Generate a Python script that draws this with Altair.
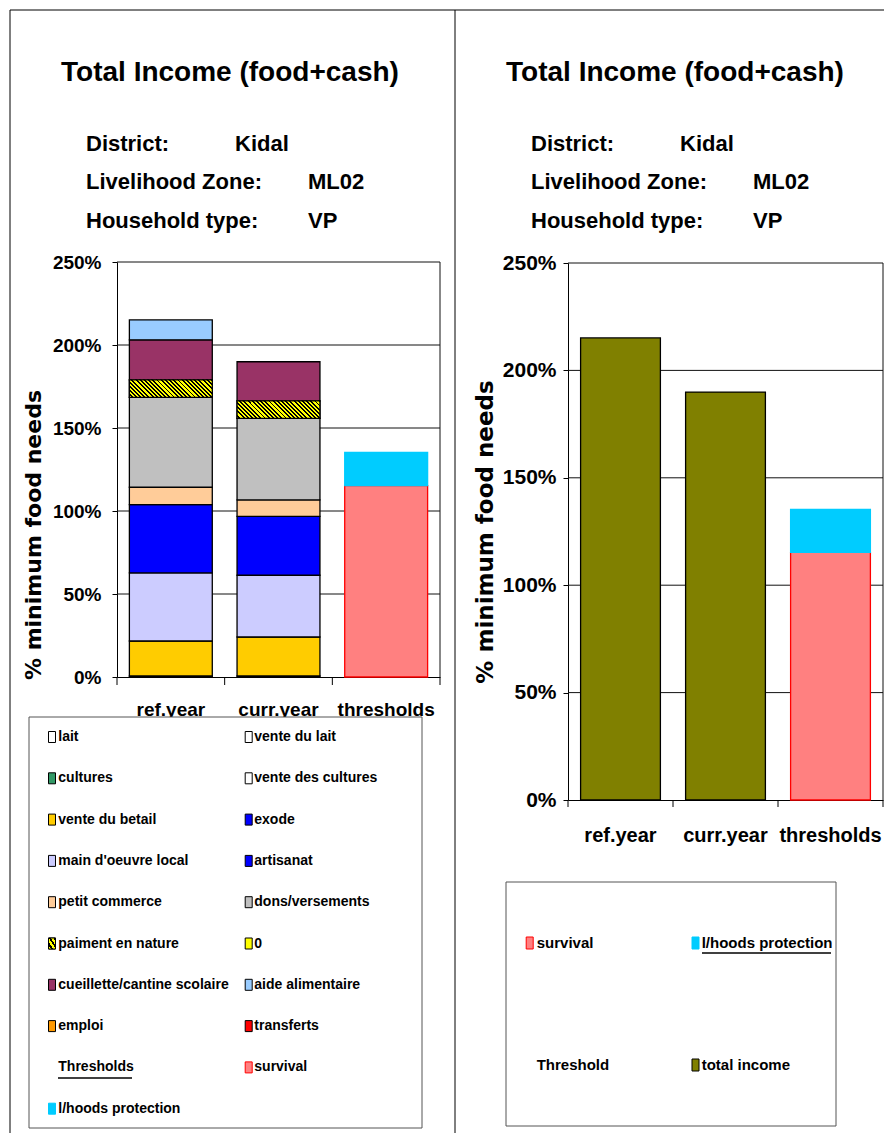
import altair as alt
import pandas as pd

# ---------------- data ----------------
PERIODS = ["ref.year", "curr.year", "thresholds"]

SERIES = ["lait", "vente du lait", "cultures", "vente des cultures", "vente du betail",
          "exode", "main d'oeuvre local", "artisanat", "petit commerce", "dons/versements",
          "paiment en nature", "0", "cueillette/cantine scolaire", "aide alimentaire",
          "emploi", "transferts"]
SERIES_COLORS = ["#FFFFFF", "#FFFFFF", "#339966", "#FFFFFF", "#FFCC00",
                 "#0000FF", "#CCCCFF", "#0000FF", "#FFCC99", "#C0C0C0",
                 "#FFFF00", "#FFFF00", "#993366", "#99CCFF",
                 "#FF9900", "#FF0000"]
REF_YEAR = [0.6, 0, 0, 0, 21.1, 0, 41.0, 41.2, 10.4, 54.1, 10.6, 0, 24.1, 12.0, 0, 0]
CURR_YEAR = [0.6, 0, 0, 0, 23.5, 0, 37.2, 35.5, 9.9, 49.1, 10.6, 0, 23.5, 0, 0, 0]

THRESH_SERIES = ["survival", "l/hoods protection"]
THRESH_VALUES = [115.3, 20.0]
THRESH_FILLS = ["#FF8080", "#00CCFF"]
THRESH_STROKES = ["#FF0000", "#00CCFF"]

TOTAL_LABEL = "total income"
TOTAL_COLOR = "#808000"

Y_TICKS = [0, 50, 100, 150, 200, 250]

TITLE = "Total Income (food+cash)"
INFO_LABELS = ["District:", "Livelihood Zone:", "Household type:"]
INFO_VALUES = ["Kidal", "ML02", "VP"]
Y_TITLE = "% minimum food needs"

LEFT_LEGEND = SERIES + ["Thresholds"] + THRESH_SERIES
RIGHT_LEGEND = THRESH_SERIES + ["Threshold", TOTAL_LABEL]

# ---------------- style ----------------
NARROW = "Liberation Sans, Arial, sans-serif"
WIDE = "DejaVu Sans"
W, H = 876, 1125

L_X = [109, 432]
L_Y = [669, 254]
R_X = [560, 875]
R_Y = [792, 255]
PANEL_DX = 445
BAR_SW = 1.3

one = pd.DataFrame({"k": [0]})

# hatch fill for "paiment en nature"
N_STRIPES = 24
stops = []
for k in range(N_STRIPES):
    a = k / N_STRIPES
    b = (k + 0.55) / N_STRIPES
    c = (k + 1) / N_STRIPES
    stops += [alt.GradientStop(offset=a, color="#FFFF00"),
              alt.GradientStop(offset=b, color="#FFFF00"),
              alt.GradientStop(offset=b, color="#000000"),
              alt.GradientStop(offset=c, color="#000000")]
HATCH = alt.LinearGradient(gradient="linear", stops=stops, x1=0, y1=1, x2=1.16, y2=0.754)
sw_stops = []
for k in range(3):
    a = k / 3
    b = (k + 0.55) / 3
    c = (k + 1) / 3
    sw_stops += [alt.GradientStop(offset=a, color="#FFFF00"),
                 alt.GradientStop(offset=b, color="#FFFF00"),
                 alt.GradientStop(offset=b, color="#000000"),
                 alt.GradientStop(offset=c, color="#000000")]
HATCH_SW = alt.LinearGradient(gradient="linear", stops=sw_stops, x1=0, y1=1, x2=1, y2=0)

# ---------------- tables ----------------
inc_rows = []
for period, vals in [(PERIODS[0], REF_YEAR), (PERIODS[1], CURR_YEAR)]:
    for i, (s, v) in enumerate(zip(SERIES, vals)):
        if v > 0:
            inc_rows.append({"period": period, "series": s, "value": v,
                             "order": i, "fill": SERIES_COLORS[i]})
income_df = pd.DataFrame(inc_rows)

thr_df = pd.DataFrame({"period": PERIODS[2], "series": THRESH_SERIES,
                       "value": THRESH_VALUES, "order": [0, 1],
                       "fill": THRESH_FILLS, "stroke": THRESH_STROKES})

total_df = pd.DataFrame({"period": PERIODS[:2],
                         "value": [round(sum(REF_YEAR), 1), round(sum(CURR_YEAR), 1)]})

grid_df = pd.DataFrame({"tick": Y_TICKS[1:]})


def xscale(rng, pi):
    return alt.Scale(domain=PERIODS, range=rng, paddingInner=pi, paddingOuter=pi / 2)


def yscale(rng):
    return alt.Scale(domain=[0, 250], range=rng, nice=False, zero=False)


def yaxis(xpos, fs, pad):
    return alt.Axis(orient="left", offset=-xpos, values=Y_TICKS, labelExpr="datum.value + '%'",
                    grid=False, domainColor="black", tickColor="black", tickSize=5,
                    labelFont=NARROW, labelFontSize=fs, labelFontWeight="bold",
                    labelColor="black", labelPadding=pad, title=None)


def xaxis(ypos, fs, pad):
    return alt.Axis(orient="bottom", offset=ypos - H, ticks=False,
                    grid=False, domainColor="black", labelAngle=0,
                    labelFont=NARROW, labelFontSize=fs, labelFontWeight="bold",
                    labelColor="black", labelPadding=pad, title=None)


def stack(ch):
    return ch.transform_stack(stack="value", groupby=["period"], as_=["v0", "v1"],
                              sort=[alt.SortField(field="order", order="ascending")])


def panel_common(xr, yr, pi, ax_y, ax_x, tick_len):
    xs, ys = xscale(xr, pi), yscale(yr)
    grid = alt.Chart(grid_df).mark_rule(color="#111111", strokeWidth=1).encode(
        y=alt.Y("tick:Q", scale=ys, axis=ax_y),
        x=alt.value(xr[0]), x2=alt.value(xr[1]))
    border = alt.Chart(one).mark_rule(color="#111111", strokeWidth=1).encode(
        x=alt.value(xr[1]), y=alt.value(yr[1]), y2=alt.value(yr[0]))
    step = (xr[1] - xr[0]) / len(PERIODS)
    tick_df = pd.DataFrame({"bx": [xr[0] + k * step for k in range(len(PERIODS) + 1)]})
    xticks = alt.Chart(tick_df).mark_rule(color="black", strokeWidth=1).encode(
        x=alt.X("bx:Q", scale=None), y=alt.value(yr[0]), y2=alt.value(yr[0] + tick_len))
    thr = stack(alt.Chart(thr_df)).mark_bar(strokeWidth=BAR_SW).encode(
        x=alt.X("period:N", scale=xs, axis=ax_x),
        y=alt.Y("v0:Q", scale=ys, axis=ax_y), y2="v1:Q",
        fill=alt.Fill("fill:N", scale=None), stroke=alt.Stroke("stroke:N", scale=None))
    return xs, ys, grid, border, xticks, thr


# left panel
lax_y = yaxis(L_X[0], 19, 11)
lax_x = xaxis(L_Y[0], 19, 23)
xs, ys, lgrid, lborder, lxt, lthr = panel_common(L_X, L_Y, 0.23, lax_y, lax_x, 8)
linc = stack(alt.Chart(income_df)).mark_bar(stroke="black", strokeWidth=BAR_SW).encode(
    x=alt.X("period:N", scale=xs, axis=lax_x),
    y=alt.Y("v0:Q", scale=ys, axis=lax_y), y2="v1:Q",
    fill=alt.Fill("fill:N", scale=None))
lhatch = stack(alt.Chart(income_df)).transform_filter(
    alt.datum.series == "paiment en nature").mark_bar(
    fill=HATCH, stroke="black", strokeWidth=BAR_SW).encode(
    x=alt.X("period:N", scale=xs, axis=lax_x),
    y=alt.Y("v0:Q", scale=ys, axis=lax_y), y2="v1:Q")
left_panel = alt.layer(lgrid, lborder, lxt, linc, lhatch, lthr)

# right panel
rax_y = yaxis(R_X[0], 21, 7)
rax_x = xaxis(R_Y[0], 20, 25)
xs2, ys2, rgrid, rborder, rxt, rthr = panel_common(R_X, R_Y, 0.24, rax_y, rax_x, 7)
rtot = alt.Chart(total_df).mark_bar(fill=TOTAL_COLOR, stroke="black", strokeWidth=BAR_SW).encode(
    x=alt.X("period:N", scale=xs2, axis=rax_x),
    y=alt.Y("value:Q", scale=ys2, axis=rax_y))
right_panel = alt.layer(rgrid, rborder, rxt, rtot, rthr)

# ---------------- decorations ----------------
frames = [
    alt.Chart(one).mark_rule(color="black", strokeWidth=1).encode(
        x=alt.value(2), x2=alt.value(W), y=alt.value(2)),
    alt.Chart(one).mark_rule(color="black", strokeWidth=1).encode(
        x=alt.value(2), y=alt.value(2), y2=alt.value(H)),
    alt.Chart(one).mark_rule(color="black", strokeWidth=1).encode(
        x=alt.value(447), y=alt.value(2), y2=alt.value(H)),
]

title_df = pd.DataFrame({"text": [TITLE, TITLE], "x": [222, 222 + PANEL_DX], "y": [73, 73]})
titles = alt.Chart(title_df).mark_text(font=NARROW, fontWeight="bold", fontSize=28,
                                       align="center", baseline="alphabetic", color="black").encode(
    x=alt.X("x:Q", scale=None), y=alt.Y("y:Q", scale=None), text="text:N")

info_rows = []
base_y = [142.5, 181, 219.5]
val_x = [227, 300, 300]
for dx in [0, PANEL_DX]:
    for i in range(3):
        info_rows.append({"text": INFO_LABELS[i], "x": 78 + dx, "y": base_y[i]})
        info_rows.append({"text": INFO_VALUES[i], "x": val_x[i] + dx, "y": base_y[i]})
info = alt.Chart(pd.DataFrame(info_rows)).mark_text(
    font=NARROW, fontWeight="bold", fontSize=22, align="left", baseline="alphabetic",
    color="black").encode(x=alt.X("x:Q", scale=None), y=alt.Y("y:Q", scale=None), text="text:N")

ytitles = [
    alt.Chart(one).mark_text(font=WIDE, fontWeight="bold", fontSize=22, angle=270,
                             align="center", baseline="alphabetic", color="black").encode(
        x=alt.value(33), y=alt.value(527), text=alt.value(Y_TITLE)),
    alt.Chart(one).mark_text(font=WIDE, fontWeight="bold", fontSize=23, angle=270,
                             align="center", baseline="alphabetic", color="black").encode(
        x=alt.value(485), y=alt.value(524), text=alt.value(Y_TITLE)),
]

# left legend
ll_fill = SERIES_COLORS + [None] + THRESH_FILLS
ll_stroke = ["#000000"] * len(SERIES) + [None] + THRESH_STROKES
ll_rows = []
for i, lab in enumerate(LEFT_LEGEND):
    r, c = i // 2, i % 2
    sx = [44, 240.7][c]
    cy = 729 + 41.3 * r
    ll_rows.append({"label": lab, "fill": ll_fill[i] or "", "stroke": ll_stroke[i] or "",
                    "tx": [50.3, 246.3][c], "cy": cy,
                    "x0": sx - 3.5, "x1": sx + 3.5, "y0": cy - 5.5, "y1": cy + 5.5})
ll_df = pd.DataFrame(ll_rows)

# right legend
rl_fill = THRESH_FILLS + [None, TOTAL_COLOR]
rl_stroke = THRESH_STROKES + [None, "#000000"]
rl_rows = []
for i, lab in enumerate(RIGHT_LEGEND):
    r, c = i // 2, i % 2
    sx = [521.7, 687.5][c]
    cy = [935, 1057][r]
    rl_rows.append({"label": lab, "fill": rl_fill[i] or "", "stroke": rl_stroke[i] or "",
                    "tx": [528.7, 693.7][c], "cy": cy,
                    "x0": sx - 3.5, "x1": sx + 3.5, "y0": cy - 6, "y1": cy + 6})
rl_df = pd.DataFrame(rl_rows)

boxes = [
    alt.Chart(one).mark_rect(fill="white", stroke="#555555", strokeWidth=1).encode(
        x=alt.value(21), x2=alt.value(414), y=alt.value(709), y2=alt.value(1120)),
    alt.Chart(one).mark_rect(fill="white", stroke="#555555", strokeWidth=1).encode(
        x=alt.value(498), x2=alt.value(828), y=alt.value(874), y2=alt.value(1118)),
]


def legend_layers(df, fs):
    sw = alt.Chart(df).transform_filter("datum.fill != ''").mark_rect(strokeWidth=1).encode(
        x=alt.X("x0:Q", scale=None), x2="x1:Q", y=alt.Y("y0:Q", scale=None), y2="y1:Q",
        fill=alt.Fill("fill:N", scale=None), stroke=alt.Stroke("stroke:N", scale=None))
    tx = alt.Chart(df).mark_text(font=NARROW, fontWeight="bold", fontSize=fs, align="left",
                                 baseline="middle", color="black").encode(
        x=alt.X("tx:Q", scale=None), y=alt.Y("cy:Q", scale=None), text="label:N")
    return [sw, tx]


hatch_sw = alt.Chart(ll_df).transform_filter(alt.datum.label == "paiment en nature").mark_rect(
    fill=HATCH_SW, stroke="black", strokeWidth=1).encode(
    x=alt.X("x0:Q", scale=None), x2="x1:Q", y=alt.Y("y0:Q", scale=None), y2="y1:Q")

underlines = [
    alt.Chart(one).mark_rule(color="black", strokeWidth=1.6).encode(
        x=alt.value(50), x2=alt.value(124), y=alt.value(1070)),
    alt.Chart(one).mark_rule(color="black", strokeWidth=1.6).encode(
        x=alt.value(694), x2=alt.value(823), y=alt.value(945)),
]

deco = alt.layer(*frames, titles, info, *ytitles, *boxes,
                 *legend_layers(ll_df, 14), hatch_sw, *legend_layers(rl_df, 15),
                 *underlines)

chart = alt.layer(left_panel, right_panel, deco).resolve_scale(
    x="independent", y="independent"
).properties(
    width=W, height=H, padding=0, autosize=alt.AutoSizeParams(type="none")
).configure_view(stroke=None)

chart.save("out.html", embed_options={"renderer": "svg", "actions": False})
